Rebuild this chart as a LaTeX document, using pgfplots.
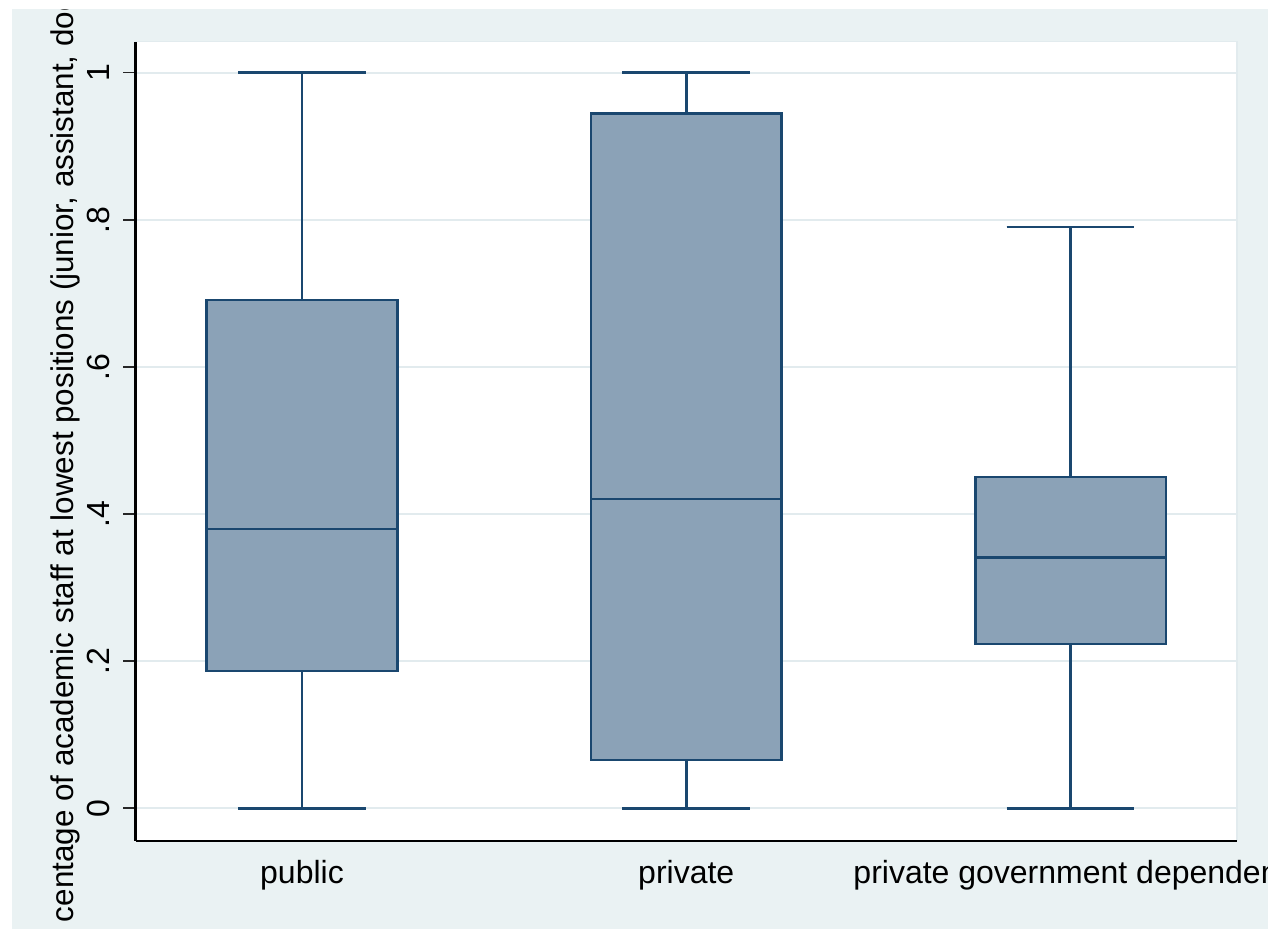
\documentclass[border=0pt]{standalone}
\usepackage{fontspec}
\setmainfont{Liberation Sans}
\usepackage{pgfplots}
\pgfplotsset{compat=1.18}
\usepgfplotslibrary{statistics}
\definecolor{stnavy}{RGB}{26,71,111}
\definecolor{stfill}{RGB}{139,162,183}
\definecolor{stbg}{RGB}{234,242,243}
\definecolor{stgrid}{RGB}{226,235,238}

\begin{document}
\begin{tikzpicture}[x=1pt,y=1pt]
% graph region
\fill[stbg] (-61.75,-44.15) rectangle (566.25,415.85);
\begin{axis}[
  at={(0,0)}, anchor=south west,
  scale only axis, width=550.75pt, height=399.5pt,
  xmin=0.5667, xmax=3.4333, ymin=-0.044, ymax=1.0419,
  axis x line*=bottom, axis y line*=left,
  axis line style={line width=1pt, black, -},
  axis background/.style={fill=white, draw=stgrid, line width=0.8pt},
  xtick={1,2,3},
  xticklabels={public,private,private government dependent},
  ytick={0,0.2,0.4,0.6,0.8,1},
  yticklabels={0,.2,.4,.6,.8,1},
  tick align=outside, major tick length=6pt,
  xtick style={draw=none},
  ytick style={line width=0.9pt, black!85},
  ymajorgrids, grid style={stgrid, line width=1pt},
  /pgf/number format/assume math mode=true,
  ticklabel style={font=\fontsize{16}{19}\selectfont, inner sep=0pt},
  yticklabel style={rotate=90, anchor=south},
  xticklabel style={anchor=base},
  yticklabel shift=6.75pt,
  xticklabel shift=15.3pt,
  boxplot/draw direction=y,
]
% public
\addplot[boxplot prepared={draw position=1,
    lower whisker=0, lower quartile=0.1866, median=0.3796,
    upper quartile=0.6908, upper whisker=1,
    box extend=0.496, whisker extend=0.333},
  draw=stnavy, fill=stfill, line width=1.3pt] coordinates {};
% private
\addplot[boxplot prepared={draw position=2,
    lower whisker=0, lower quartile=0.0656, median=0.4204,
    upper quartile=0.9447, upper whisker=1,
    box extend=0.496, whisker extend=0.333},
  draw=stnavy, fill=stfill, line width=1.3pt] coordinates {};
% private government dependent
\addplot[boxplot prepared={draw position=3,
    lower whisker=0, lower quartile=0.2233, median=0.3405,
    upper quartile=0.4503, upper whisker=0.7902,
    box extend=0.496, whisker extend=0.333},
  draw=stnavy, fill=stfill, line width=1.3pt] coordinates {};
\end{axis}
% y axis title
\node[rotate=90, anchor=base west, inner sep=0pt, font=\fontsize{15.7}{19}\selectfont]
  at (-31.25,-40.9) {centage of academic staff at lowest positions (junior, assistant, doctoral)};
% white page margins around the graph region
\fill[white] (-67.75,-44.15) rectangle (-61.75,420.35);
\fill[white] (-67.75,415.85) rectangle (572.25,420.35);
\fill[white] (566.25,-44.15) rectangle (572.25,420.35);
\pgfresetboundingbox
\useasboundingbox (-67.75,-44.15) rectangle (572.25,420.35);
\end{tikzpicture}
\end{document}
